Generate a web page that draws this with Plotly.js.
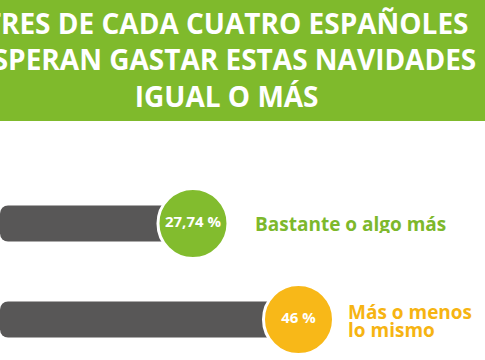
<!DOCTYPE html>
<html>
<head>
<meta charset="utf-8">
<script src="https://cdn.plot.ly/plotly-3.0.1.min.js"></script>
<style>html,body{margin:0;padding:0;background:#fff;}#chart{width:485px;height:360px;}</style>
</head>
<body>
<div id="chart"></div>
<script>
// ---- data ----
const titleLines = ["TRES DE CADA CUATRO ESPAÑOLES", "ESPERAN GASTAR ESTAS NAVIDADES", "IGUAL O MÁS"];
const categories = ["Bastante o algo más", "Más o menos lo mismo"];
const categoryLines = [["Bastante o algo más"], ["Más o menos", "lo mismo"]];
const values = [27.74, 46];
const valueLabels = ["27,74 %", "46 %"];

// ---- styling ----
const colors = ["#82bc2e", "#f8b818"];
const textColors = ["#7db82b", "#f6b412"];
const barColor = "#585757";
const headerGreen = "#7fba2c";
const font = "'Open Sans', Lato, sans-serif";

const W = 485, H = 360;
const xRange = [-5.66, 78.28];
const yRange = [1.422, -2.328];
const labelShift = [60, 48];

const bars = {
  type: "bar",
  orientation: "h",
  y: categories,
  base: xRange[0],
  x: values.map(v => v - xRange[0]),
  width: 0.375,
  marker: {color: barColor, cornerradius: 8, line: {width: 0}},
  hoverinfo: "skip"
};

const circles = {
  type: "scatter",
  mode: "markers+text",
  x: values,
  y: categories,
  text: valueLabels,
  textposition: "middle center",
  textfont: {family: font, size: 15, color: "#ffffff", weight: "bold"},
  marker: {size: 70, color: colors, line: {color: "#ffffff", width: 3}, opacity: 1},
  cliponaxis: false,
  hoverinfo: "skip"
};

const annotations = [{
  xref: "paper", yref: "paper",
  x: 226 / W, y: 1 - 60 / H,
  xanchor: "center", yanchor: "middle",
  text: titleLines.join("<br>"),
  showarrow: false,
  font: {family: font, size: 28, color: "#ffffff", weight: "bold"}
}];

categoryLines.forEach((lines, i) => {
  const n = lines.length;
  lines.forEach((ln, j) => {
    annotations.push({
      xref: "x", yref: "y",
      x: values[i], y: categories[i],
      xanchor: "left", yanchor: "middle",
      xshift: labelShift[i],
      yshift: -((j - (n - 1) / 2) * 18) + (n > 1 ? -1.5 : -1),
      height: 18,
      text: ln,
      showarrow: false,
      font: {family: font, size: 19, color: textColors[i], weight: "bold"}
    });
  });
});

const layout = {
  width: W, height: H,
  margin: {l: 0, r: 0, t: 0, b: 0, pad: 0},
  paper_bgcolor: "#ffffff",
  plot_bgcolor: "rgba(0,0,0,0)",
  showlegend: false,
  xaxis: {range: xRange, visible: false, fixedrange: true},
  yaxis: {type: "category", categoryorder: "array", categoryarray: categories, range: yRange, visible: false, fixedrange: true},
  shapes: [{
    type: "rect", xref: "paper", yref: "paper",
    x0: 0, x1: 1, y0: 1 - 121 / H, y1: 1,
    fillcolor: headerGreen, line: {width: 0}, layer: "below"
  }],
  annotations: annotations
};

Plotly.newPlot("chart", [bars, circles], layout, {displayModeBar: false, staticPlot: true});
</script>
</body>
</html>
